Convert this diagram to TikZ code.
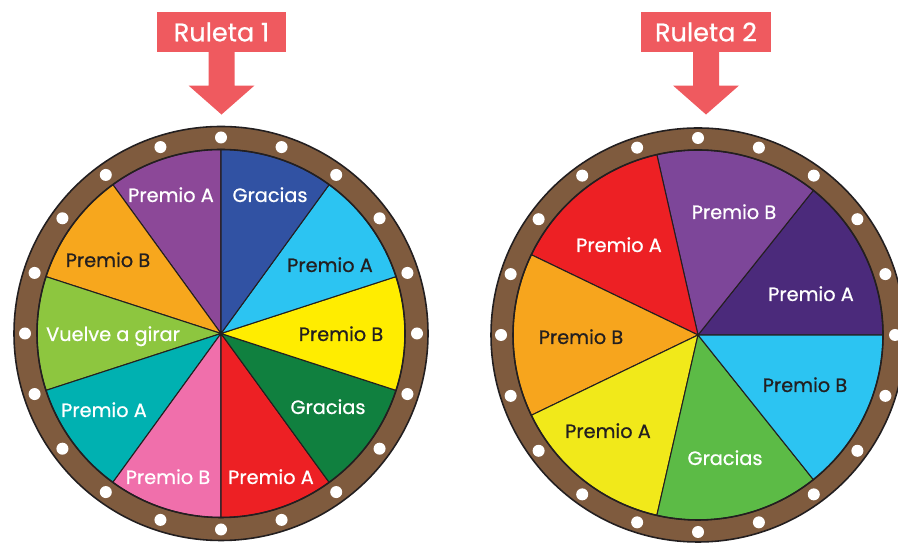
\documentclass[tikz,border=0pt]{standalone}
\usepackage{fontspec}
\setmainfont{Poppins}[FakeBold=0.7]
\usepackage{xcolor}
\usetikzlibrary{calc}

\definecolor{ringbrown}{HTML}{7F5B3E}
\definecolor{outline}{HTML}{231F20}
\definecolor{bannerred}{HTML}{EF5A5F}
\definecolor{txtdark}{HTML}{231F20}
% ruleta 1
\definecolor{apurple}{HTML}{8C4898}
\definecolor{ablue}{HTML}{3152A3}
\definecolor{acyan}{HTML}{2CC4F2}
\definecolor{ayellow}{HTML}{FFED00}
\definecolor{adkgreen}{HTML}{10803F}
\definecolor{ared}{HTML}{ED2024}
\definecolor{apink}{HTML}{F06FAB}
\definecolor{ateal}{HTML}{00B1B1}
\definecolor{alime}{HTML}{8DC63F}
\definecolor{aorange}{HTML}{F7A71D}
% ruleta 2
\definecolor{bdkpurple}{HTML}{4B2A7B}
\definecolor{bpurple}{HTML}{7D4699}
\definecolor{bred}{HTML}{ED2024}
\definecolor{borange}{HTML}{F7A51D}
\definecolor{byellow}{HTML}{F1E91A}
\definecolor{bgreen}{HTML}{5CBB46}
\definecolor{bcyan}{HTML}{2CC4F2}

\begin{document}
\begin{tikzpicture}[x=0.02cm,y=0.02cm,line width=0.6pt,
  banner/.style={fill=bannerred,text=white,minimum width=2.6cm,minimum height=0.8cm,
    inner sep=0pt,font=\fontsize{14.5}{16}\selectfont},
  lbl/.style={anchor=base,font=\fontsize{11}{13}\selectfont},
  lblw/.style={lbl,text=white},
  lbld/.style={lbl,text=txtdark}]

  \useasboundingbox (0,0) rectangle (898,543);

  %%% Ruleta 1
  \coordinate (c1) at (221,209.5);
  \filldraw[fill=ringbrown,draw=outline,line width=0.9pt] (c1) circle (207);
  \foreach \a/\col in {90/apurple,126/aorange,162/alime,198/ateal,234/apink,
                       270/ared,306/adkgreen,342/ayellow,18/acyan,54/ablue}
    \filldraw[fill=\col,draw=outline] (c1) -- ++(\a:184) arc (\a:\a+36:184) -- cycle;
  \draw[outline,line width=0.9pt] (c1) circle (184);
  \foreach \k in {0,...,19}
    \fill[white] (c1) ++(90+18*\k:196) circle (6);

  \node[lblw] (pa1) at (171,341) {Premio A};
  \node[lblw] (gr1) at (270,341) {Gracias};
  \node[lbld] (pb1) at (108,276) {Premio B};
  \node[lbld] (pa2) at (330,271) {Premio A};
  \node[lblw] (vg1) at (113,202) {Vuelve a girar};
  \node[lbld] (pb2) at (341,202) {Premio B};
  \node[lblw] (pa3) at (104,126) {Premio A};
  \node[lblw] (gr2) at (328,129) {Gracias};
  \node[lblw] (pb3) at (168,59) {Premio B};
  \node[lblw] (pa4) at (271,59) {Premio A};

  \node[banner] (r1) at (221.5,511) {Ruleta 1};
  \fill[bannerred] (r1.south) ++(-13,1) -- ++(0,-34) -- ++(-20,0) -- ++(33,-29)
    -- ++(33,29) -- ++(-20,0) -- ++(0,34) -- cycle;

  %%% Ruleta 2
  \coordinate (c2) at (698,208);
  \filldraw[fill=ringbrown,draw=outline,line width=0.9pt] (c2) circle (207);
  \foreach \i/\col [evaluate=\i as \a using 360/7*\i] in
      {0/bdkpurple,1/bpurple,2/bred,3/borange,4/byellow,5/bgreen,6/bcyan}
    \filldraw[fill=\col,draw=outline] (c2) -- ++(\a:185) arc (\a:\a+360/7:185) -- cycle;
  \draw[outline,line width=0.9pt] (c2) circle (185);
  \foreach \k in {0,...,19}
    \fill[white] (c2) ++(90+18*\k:197) circle (6);

  \node[lblw] (qb1) at (734,324) {Premio B};
  \node[lblw] (qa1) at (619,291) {Premio A};
  \node[lblw] (qa2) at (811,242) {Premio A};
  \node[lbld] (qb2) at (581,199) {Premio B};
  \node[lbld] (qb3) at (805,151) {Premio B};
  \node[lbld] (qa3) at (608,105) {Premio A};
  \node[lblw] (gq1) at (725,78) {Gracias};

  \node[banner] (r2) at (706,511) {Ruleta 2};
  \fill[bannerred] (r2.south) ++(-13,1) -- ++(0,-34) -- ++(-20,0) -- ++(33,-29)
    -- ++(33,29) -- ++(-20,0) -- ++(0,34) -- cycle;

\end{tikzpicture}
\end{document}
